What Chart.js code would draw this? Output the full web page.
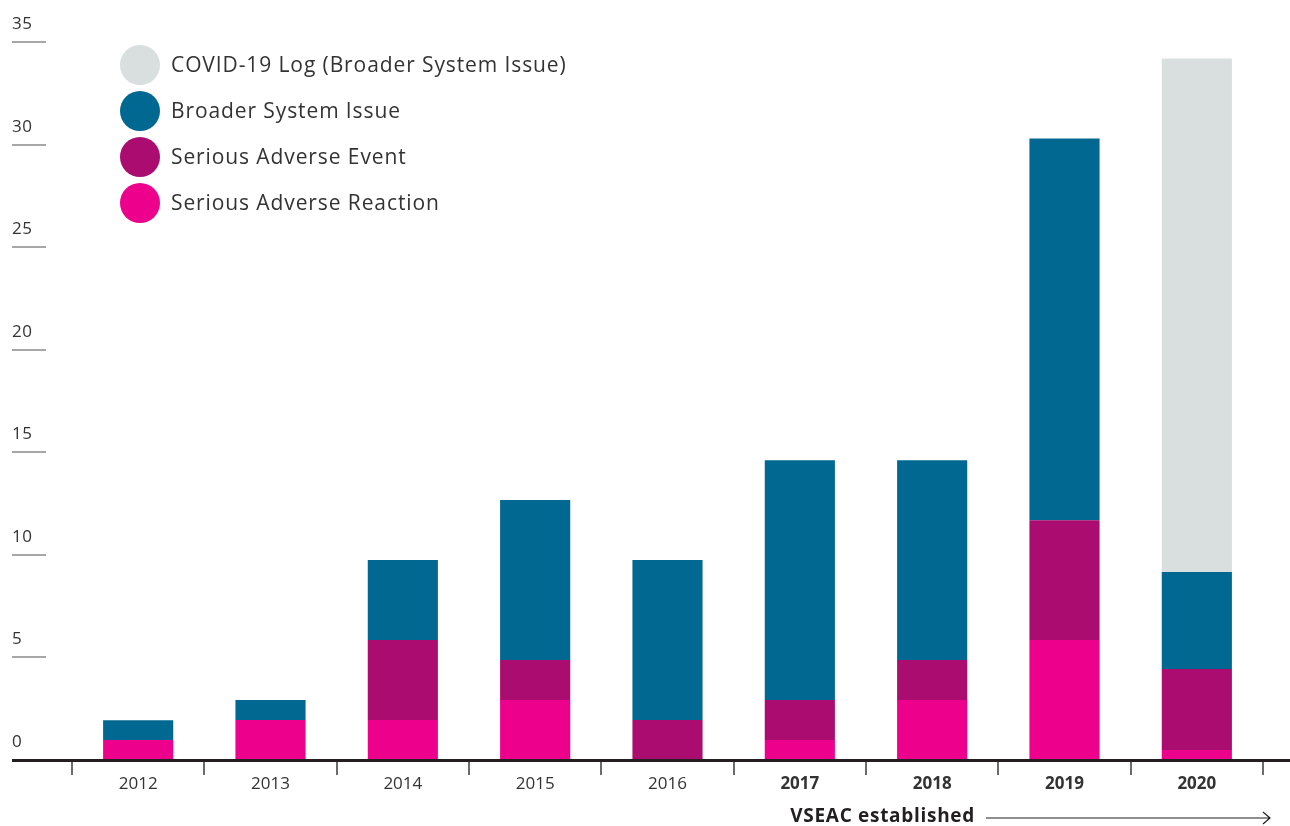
<!DOCTYPE html>
<html>
<head>
<meta charset="utf-8">
<script src="https://cdn.jsdelivr.net/npm/chart.js@4/dist/chart.umd.min.js"></script>
<style>
  html, body { margin: 0; padding: 0; background: #ffffff; }
  #wrap { width: 1290px; height: 826px; }
</style>
</head>
<body>
<div id="wrap"><canvas id="chart" width="1290" height="826"></canvas></div>
<script>
// Reported cases per year, stacked by category
const years = ['2012', '2013', '2014', '2015', '2016', '2017', '2018', '2019', '2020'];
const seriousAdverseReaction = [0.97, 1.95, 1.95, 2.92, 0, 0.97, 2.92, 5.85, 0.49];
const seriousAdverseEvent    = [0, 0, 3.9, 1.95, 1.95, 1.95, 1.95, 5.84, 3.94];
const broaderSystemIssue     = [0.97, 0.97, 3.9, 7.8, 7.8, 11.69, 9.74, 18.6, 4.73];
const covidLog               = [0, 0, 0, 0, 0, 0, 0, 0, 25.03];
const boldFromYear = '2017';
const footnote = 'VSEAC established';

const FONT = '"Open Sans", "Noto Sans", sans-serif';
const TEXT = '#333333';
const COLORS = {
  reaction: '#ec008c',
  event: '#ab0c6f',
  broader: '#006891',
  covid: '#d9dedf'
};

// y-axis: value labels above short rules at the left edge
const leftTicks = {
  id: 'leftTicks',
  afterDraw(chart) {
    const { ctx } = chart;
    const y = chart.scales.y;
    ctx.save();
    ctx.font = '17px ' + FONT;
    ctx.fillStyle = TEXT;
    ctx.textAlign = 'left';
    ctx.textBaseline = 'alphabetic';
    ctx.letterSpacing = '0.5px';
    y.ticks.forEach(t => {
      const py = Math.round(y.getPixelForValue(t.value));
      ctx.fillText(String(t.value), 12, py - 13);
      if (t.value !== 0) {
        ctx.strokeStyle = '#8a8a8a';
        ctx.lineWidth = 1.5;
        ctx.beginPath();
        ctx.moveTo(12, py);
        ctx.lineTo(46, py);
        ctx.stroke();
      }
    });
    ctx.restore();
  }
};

// baseline across the full width, plus the footnote arrow
const baseline = {
  id: 'baseline',
  afterDraw(chart) {
    const { ctx } = chart;
    const y0 = chart.scales.y.getPixelForValue(0);
    ctx.save();
    ctx.strokeStyle = '#231f20';
    ctx.lineWidth = 3;
    ctx.beginPath();
    ctx.moveTo(12, y0 + 0.5);
    ctx.lineTo(1290, y0 + 0.5);
    ctx.stroke();

    ctx.font = 'bold 19px ' + FONT;
    ctx.letterSpacing = '0.7px';
    ctx.fillStyle = '#231f20';
    ctx.textAlign = 'right';
    ctx.textBaseline = 'middle';
    ctx.fillText(footnote, 975, 817);

    ctx.strokeStyle = '#231f20';
    ctx.lineWidth = 1.2;
    ctx.beginPath();
    ctx.moveTo(986, 818);
    ctx.lineTo(1270, 818);
    ctx.moveTo(1263, 812);
    ctx.lineTo(1270, 818);
    ctx.lineTo(1263, 824);
    ctx.stroke();
    ctx.restore();
  }
};

// circular-swatch legend, top series first
const swatchLegend = {
  id: 'swatchLegend',
  afterDraw(chart) {
    const { ctx } = chart;
    const sets = chart.data.datasets.slice().reverse();
    ctx.save();
    ctx.font = '21px ' + FONT;
    ctx.letterSpacing = '0.9px';
    ctx.textAlign = 'left';
    ctx.textBaseline = 'middle';
    sets.forEach((ds, i) => {
      const cy = 65 + i * 46;
      ctx.fillStyle = ds.backgroundColor;
      ctx.beginPath();
      ctx.arc(140, cy, 20, 0, Math.PI * 2);
      ctx.fill();
      ctx.fillStyle = TEXT;
      ctx.fillText(ds.label, 171, cy + 1);
    });
    ctx.restore();
  }
};

const boldIndex = years.indexOf(boldFromYear);

new Chart(document.getElementById('chart'), {
  type: 'bar',
  data: {
    labels: years,
    datasets: [
      { label: 'Serious Adverse Reaction', data: seriousAdverseReaction, backgroundColor: COLORS.reaction },
      { label: 'Serious Adverse Event', data: seriousAdverseEvent, backgroundColor: COLORS.event },
      { label: 'Broader System Issue', data: broaderSystemIssue, backgroundColor: COLORS.broader },
      { label: 'COVID-19 Log (Broader System Issue)', data: covidLog, backgroundColor: COLORS.covid }
    ]
  },
  options: {
    responsive: false,
    animation: false,
    devicePixelRatio: 1,
    layout: { padding: { left: 72, right: 27, top: 42, bottom: 0 } },
    datasets: { bar: { categoryPercentage: 0.53, barPercentage: 1, borderWidth: 0 } },
    plugins: { legend: { display: false }, tooltip: { enabled: false } },
    scales: {
      x: {
        stacked: true,
        border: { display: false },
        grid: { drawOnChartArea: false, drawTicks: true, tickLength: 15, color: '#6b6b6b', lineWidth: 2, offset: true },
        ticks: {
          color: TEXT,
          padding: -1,
          maxRotation: 0,
          font: (c) => ({ family: FONT, size: 17, weight: c.index >= boldIndex ? 'bold' : 'normal' })
        },
        afterFit(scale) { scale.height = 66; }
      },
      y: {
        stacked: true,
        display: false,
        min: 0,
        max: 35,
        ticks: { stepSize: 5 }
      }
    }
  },
  plugins: [leftTicks, baseline, swatchLegend]
});
</script>
</body>
</html>
